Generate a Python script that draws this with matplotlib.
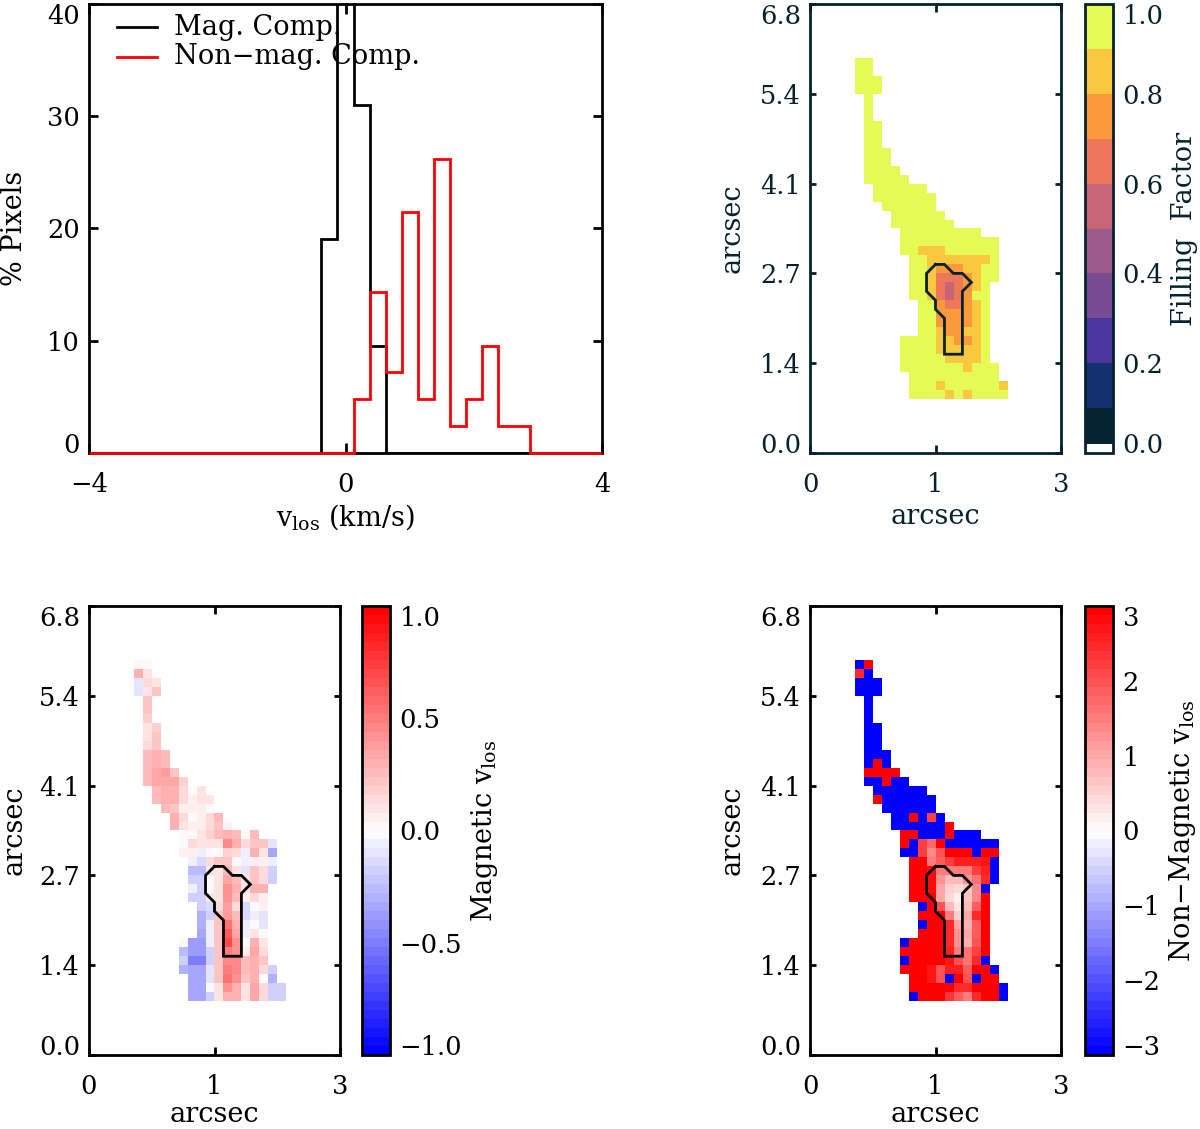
import numpy as np
import matplotlib
matplotlib.use("Agg")
import matplotlib.pyplot as plt
from matplotlib.colors import ListedColormap, BoundaryNorm, LinearSegmentedColormap

plt.rcParams['font.family'] = ['DejaVu Serif']
plt.rcParams['mathtext.fontset'] = 'dejavuserif'

# histogram of v_los, 0.25 km/s bins
vel_edges = [-4, -0.375, -0.125, 0.125, 0.375, 0.625, 4]
mag_hist = [0, 19.1, 43, 31, 9.55, 0]
red_edges = [-4, 0.125, 0.375, 0.625, 0.875, 1.125, 1.375, 1.625, 1.875, 2.125, 2.375, 2.875, 4]
nonmag_hist = [0, 4.8, 14.3, 7.2, 21.5, 4.8, 26.2, 2.4, 4.8, 9.55, 2.4, 0]

# pixel maps, 28 x 50 cells, rows counted from the top
n_cols = 28
n_rows = 50
first_row = 6
row_start = [5, 5, 5, 5, 6, 6, 6, 6, 6, 6, 6, 6, 6, 6, 7, 7, 8, 9, 9, 10, 10, 10, 11, 11, 11, 11, 11,
             12, 12, 12, 12, 10, 10, 10, 10, 11, 11, 11]

Y, y, o, r, p = 0.95, 0.85, 0.75, 0.65, 0.55
fill_rows = [
    [Y, Y], [Y, Y], [Y, Y, Y], [Y, Y, Y], [Y], [Y], [Y], [Y, Y], [Y, Y], [Y, Y],
    [Y, Y, Y], [Y, Y, Y], [Y] * 4, [Y] * 5, [Y] * 6, [Y] * 7, [Y] * 6, [Y] * 6, [Y] * 7,
    [Y] * 9, [Y] * 11,
    [Y, Y, y, y, y, Y, Y, Y, Y, Y, Y],
    [Y, Y, y, y, y, y, y, y, y, Y],
    [Y, Y, y, o, o, o, y, y, Y, Y],
    [Y, Y, y, r, r, r, o, y, Y, Y],
    [Y, Y, y, r, p, r, o, y, Y],
    [Y, Y, y, r, p, r, o, Y, Y],
    [Y, Y, o, r, r, o, y, Y],
    [Y, Y, o, o, o, o, y, Y],
    [Y, Y, o, o, o, o, y, Y],
    [Y, Y, y, o, o, y, y, Y],
    [Y, Y, Y, Y, y, y, o, o, y, Y],
    [Y, Y, Y, Y, y, y, y, y, y, Y],
    [Y, Y, Y, Y, Y, y, y, y, y, Y],
    [Y, Y, Y, Y, Y, Y, Y, y, Y, Y, Y],
    [Y] * 10,
    [Y, Y, Y, y, Y, Y, Y, Y, Y, Y, y],
    [Y, Y, Y, Y, y, Y, y, Y, Y, Y, Y],
]

mag_rows = [
    [0, .02], [.28, .08], [-.1, .15, .1], [-.1, .1, .2], [.2], [.22], [.17], [.1, .17], [.1, .2],
    [.12, .23], [.25, .3, .27], [.25, .3, .27], [.27, .33, .38, .2], [.27, .33, .33, .35, .17],
    [.27, .3, .3, .12, .03, .1],
    [.27, .3, .3, .12, .07, .08, .08],
    [.25, .22, .07, .05, .05, 0],
    [.3, .13, .02, .05, .12, .25],
    [.3, .08, .05, .04, .12, .2, .07],
    [.03, 0, .08, .17, .25, .3, .25, .02, .25],
    [.03, .15, .08, .08, .08, .45, .3, .13, .22, .2, -.1],
    [.07, .07, -.07, .03, -.02, .17, .12, -.07, .3, .1, -.33],
    [-.07, -.15, .12, .2, .2, 0, -.08, .07, .05, -.08],
    [-.27, -.27, .1, .1, .25, .1, -.1, .2, .12, -.2],
    [-.17, -.17, 0, .1, .35, .25, .1, .2, .15, -.2],
    [-.08, -.2, 0, .1, .4, .3, .1, .28, .28],
    [-.2, -.2, .1, .1, .4, .25, .05, .12, .04],
    [-.2, -.15, .12, .38, .12, -.15, -.03, .05],
    [-.3, -.17, .2, .38, .27, -.13, -.07, -.12],
    [-.3, -.08, .2, .55, .3, -.08, .03, -.12],
    [-.33, -.08, .2, .6, .35, -.05, .1, 0],
    [-.03, -.4, -.4, -.08, .22, .7, .4, .03, .3, .1],
    [-.25, -.4, -.4, -.2, .22, .5, .4, .05, .35, .12],
    [-.2, -.5, -.5, -.2, .2, .45, .45, .25, .3, .2],
    [-.3, -.35, -.35, -.12, .2, .5, .45, .27, .3, .15, -.17],
    [-.35, -.35, -.1, .22, .55, .4, .2, .3, .02, -.3],
    [-.35, -.35, -.02, .1, .4, .3, .1, .35, .13, -.2, -.2],
    [-.35, -.35, -.17, .1, .3, .3, .1, .33, .13, -.2, -.2],
]

nonmag_rows = [
    [-3, 3], [2.4, -3], [-3, -3, -3], [-3, -3, -3], [-3], [-3], [-3], [-3, -3], [-3, -3], [-3, -3],
    [-3, -3, -3], [-3, 3, -3], [3, 3, 3, 3], [-3, -3, 3, -3, -3],
    [-3, -3, -3, -3, -3, -3],
    [3, -3, -3, -3, -3, -3, -3],
    [-3, -3, -3, -3, -3, -3],
    [-3, -3, 3, -3, 2.2, -3],
    [-3, -3, -3, -3, -3, -3, 3],
    [3, 3, -3, -3, -3, 3, -3, -3, -3],
    [3, -3, 2.2, 1.7, 3, -3, -3, -3, -3, -3, -3],
    [-3, -3, 2.2, 1.4, 2, 3, 3, 3, -3, 3, 3],
    [3, 3, 1.5, 1.8, 2.2, 2.6, 2.6, 2.6, 2.7, -3],
    [3, 3, 2.8, 1.5, 1.5, 1.5, 1.5, 2.2, 2.6, -3],
    [3, 3, 2.8, 1.2, .8, .8, 1.2, 1.6, 2.4, -3],
    [3, 3, 2.8, 1, .5, .4, .6, 1.4, -3],
    [3, 3, 3, 1, .4, .2, .7, 1.4, 3],
    [-3, 3, 2, .8, .3, .8, 1.8, 3],
    [3, 3, 3, 1.5, .5, 1, 2.4, 3],
    [-3, 3, 3, 2.5, 1, .9, 1.8, 3],
    [3, 3, 3, 2.5, 1.2, 1, 1.8, 3],
    [-3, 3, 3, 3, 3, 2.5, 1.2, .9, 2, 3],
    [3, 3, 3, 3, 3, 2.6, 1.5, 1.6, 2.2, 3],
    [-3, 3, 3, 3, 3, 2.7, 2, 1.6, 2.5, -3],
    [3, 3, 3, 2.7, 2, 2.6, 2.6, 1.8, 3, 3, -3],
    [3, 3, 2.7, 2, -3, 3, 2, -3, 3, 3],
    [3, 3, 3, 3, 2.9, 2.4, 2.4, 3, 3, 3, -3],
    [-3, 3, 3, 3, 2.3, 1.9, 1.5, 2.4, 3, 3, -3],
]

# contour outline, in cell units
contour_col = [14, 15, 16, 17, 18, 17, 17, 15, 15, 14, 14, 13, 13, 14]
contour_row = [29, 29, 30, 30, 31, 32, 39, 39, 35, 34, 33, 32, 30, 29]

fill_colors = ['#ffffff', '#04222f', '#14306e', '#4b36a0', '#784c92', '#9c5a8a',
               '#c86478', '#ec7859', '#fc9a3b', '#fac83f', '#e6fa55']
fill_bounds = [0, 0.02, 0.1, 0.2, 0.3, 0.4, 0.5, 0.6, 0.7, 0.8, 0.9, 1.0]

arc_x_ticks = [0, 1.5, 3]
arc_x_labels = ['0', '1', '3']
arc_y_ticks = [0, 1.35, 2.7, 4.05, 5.4, 6.75]
arc_y_labels = ['0.0', '1.4', '2.7', '4.1', '5.4', '6.8']

W, H = 1200, 1129
FS = 18.5
LABEL_FS = 19.5
LW = 2.0
NAVY = '#04222f'


def px_axes(x0, y0, x1, y1):
    return fig.add_axes([x0 / W, 1 - y1 / H, (x1 - x0) / W, (y1 - y0) / H])


def px_text(x, y, s, color='black', rotation=0):
    fig.text(x / W, 1 - y / H, s, color=color, rotation=rotation, ha='center', va='center',
             fontsize=LABEL_FS)


def build_grid(rows):
    grid = np.full((n_rows, n_cols), np.nan)
    for i, row in enumerate(rows):
        grid[first_row + i, row_start[i]:row_start[i] + len(row)] = row
    return np.ma.masked_invalid(grid)


def shift_end_labels(labels):
    # first and last label sit inside the axis range
    labels[0].set_verticalalignment('baseline')
    labels[-1].set_verticalalignment('top')


def style(ax, color, xtick=6, ytick=4):
    for s in ax.spines.values():
        s.set_linewidth(LW)
        s.set_color(color)
    ax.tick_params(direction='in', top=True, right=True, width=LW, color=color,
                   labelcolor=color, labelsize=FS)
    ax.tick_params(axis='x', pad=14, length=xtick)
    ax.tick_params(axis='y', pad=6.5, length=ytick)


def map_panel(rows, box, cmap, norm, color, cbar_box, cbar_ticks, cbar_labels, cbar_text, text_x,
              ylabel_x, xlabel_y):
    ax = px_axes(*box)
    im = ax.imshow(build_grid(rows), cmap=cmap, norm=norm, interpolation='nearest', aspect='auto',
                   extent=[0, 3, 0, 6.75])
    dx, dy = 3 / n_cols, 6.75 / n_rows
    ax.plot(np.array(contour_col) * dx, 6.75 - np.array(contour_row) * dy, color=color, lw=LW,
            solid_joinstyle='miter')
    ax.set_xticks(arc_x_ticks, arc_x_labels)
    ax.set_yticks(arc_y_ticks, arc_y_labels)
    style(ax, color)
    shift_end_labels(ax.get_yticklabels())
    mid_y = (box[1] + box[3]) / 2
    px_text((box[0] + box[2]) / 2, xlabel_y, 'arcsec', color)
    px_text(ylabel_x, mid_y, 'arcsec', color, rotation=90)

    cax = px_axes(*cbar_box)
    cb = fig.colorbar(im, cax=cax, spacing='proportional')
    cb.set_ticks(cbar_ticks, labels=cbar_labels)
    cb.minorticks_off()
    cb.outline.set_linewidth(LW)
    cb.outline.set_edgecolor(color)
    cax.tick_params(length=0, labelsize=FS, labelcolor=color, pad=7)
    shift_end_labels(cax.get_yticklabels())
    px_text(text_x, mid_y, cbar_text, color, rotation=90)


fig = plt.figure(figsize=(W / 100, H / 100), dpi=100)

# histogram
ax = px_axes(89, 4, 602, 453)
ax.stairs(mag_hist, vel_edges, color='black', lw=LW, baseline=None, zorder=3)
ax.stairs(nonmag_hist, red_edges, color='red', lw=LW, baseline=None, zorder=4, clip_on=False)
ax.set_xlim(-4, 4)
ax.set_ylim(0, 40)
ax.set_xticks([-4, 0, 4], ['\u22124', '0', '4'])
ax.set_yticks([0, 10, 20, 30, 40])
style(ax, 'black', xtick=7, ytick=6.5)
shift_end_labels(ax.get_yticklabels())
px_text(345, 517, r'v$_{\mathrm{los}}$ (km/s)')
px_text(15, 228, '% Pixels', rotation=90)
ax.plot([-3.56, -2.94], [37.95, 37.95], color='black', lw=LW)
ax.plot([-3.56, -2.94], [35.3, 35.3], color='red', lw=LW)
ax.text(-2.68, 37.95, 'Mag. Comp.', fontsize=LABEL_FS, va='center')
ax.text(-2.68, 35.3, 'Non\u2212mag. Comp.', fontsize=LABEL_FS, va='center')

# filling factor
map_panel(fill_rows, (810, 4, 1061, 453), ListedColormap(fill_colors), BoundaryNorm(fill_bounds, 11),
          NAVY, (1085, 4, 1113, 453), [0, 0.2, 0.4, 0.6, 0.8, 1.0],
          ['0.0', '0.2', '0.4', '0.6', '0.8', '1.0'], 'Filling  Factor', 1184, 732, 517)

# velocity maps
bwr_map = LinearSegmentedColormap.from_list('bwr_idl', ['#0000ff', '#ffffff', '#ff0000'], N=50)
map_panel(mag_rows, (89, 606, 340, 1055), bwr_map, plt.Normalize(-1, 1), 'black',
          (362, 606, 390, 1055), [-1, -0.5, 0, 0.5, 1],
          ['\u22121.0', '\u22120.5', '0.0', '0.5', '1.0'],
          r'Magnetic v$_{\mathrm{los}}$', 485, 14, 1114)
map_panel(nonmag_rows, (810, 606, 1061, 1055), bwr_map, plt.Normalize(-3, 3), 'black',
          (1085, 606, 1113, 1055), [-3, -2, -1, 0, 1, 2, 3],
          ['\u22123', '\u22122', '\u22121', '0', '1', '2', '3'],
          r'Non$-$Magnetic v$_{\mathrm{los}}$', 1182, 732, 1114)

fig.savefig('out.png', dpi=100)
